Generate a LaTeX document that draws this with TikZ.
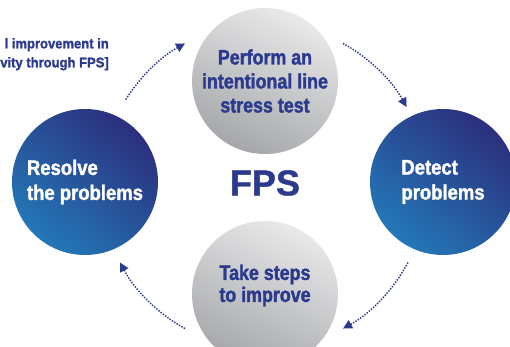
\documentclass[tikz,border=0pt]{standalone}
\usepackage{fontspec}
\setmainfont{Liberation Sans}[FakeStretch=0.85, BoldFeatures={FakeBold=1.6}]
\newfontfamily\bluefont{Liberation Sans}[FakeStretch=0.88, BoldFeatures={FakeBold=1.6}]
\newfontfamily\titlefont{Liberation Sans}[FakeStretch=0.93, BoldFeatures={FakeBold=1.4}]
\newfontfamily\fpsfont{Liberation Sans}[BoldFeatures={FakeBold=1.0}]
\usetikzlibrary{arrows.meta}
\definecolor{navy}{HTML}{2C3A8E}
\definecolor{bluedark}{HTML}{2C2F7D}
\definecolor{bluelight}{HTML}{2378B8}
\definecolor{greylight}{HTML}{E9E9EA}
\definecolor{greydark}{HTML}{A5A7AA}
\tikzset{
  bluecirc/.style={circle, minimum size=146pt, inner sep=0pt, top color=bluedark, bottom color=bluelight, shading angle=-40, text=white, font=\bluefont\bfseries\fontsize{21}{25}\selectfont, align=left},
  greycirc/.style={circle, minimum size=146pt, inner sep=0pt, top color=greylight, bottom color=greydark, shading angle=-25, text=navy, font=\bfseries\fontsize{21}{24}\selectfont, align=center},
  circtext/.style={inner sep=0pt, text=navy, font=\bfseries\fontsize{21}{22}\selectfont, align=center},
  cycarrow/.style={navy, line width=1.5pt, dash pattern=on 1.4pt off 1.4pt, -{Triangle[length=9pt,width=9pt]}},
}
\begin{document}
\begin{tikzpicture}[x=1pt,y=1pt]
\useasboundingbox (0,0) rectangle (510,347);
\clip (0,0) rectangle (510,347);
\coordinate (cyc) at (264,161);
\node[greycirc] (top) at (265,266) {Perform an\\intentional line\\stress test};
\node[bluecirc] (left) at (85,165) {Resolve\\the problems};
\node[bluecirc] (right) at (443,165) {Detect\\problems};
\node[greycirc] (bottom) at (265,53) {};
\node[circtext] (bottomtext) at (265,61.5) {Take steps\\to improve};
\node[text=navy, font=\fpsfont\bfseries\fontsize{36}{40}\selectfont] (fps) at (265,164) {FPS};
\node[text=navy, font=\titlefont\bfseries\fontsize{14}{19}\selectfont, align=right, anchor=north east, inner sep=0pt] (title) at (109,309) {l improvement in\\vity through FPS]};
\draw[cycarrow] ([shift={(148:163)}]cyc) arc[start angle=148, end angle=119, radius=163];
\draw[cycarrow] ([shift={(61:163)}]cyc) arc[start angle=61, end angle=29, radius=163];
\draw[cycarrow] ([shift={(-28:163)}]cyc) arc[start angle=-28, end angle=-61, radius=163];
\draw[cycarrow] ([shift={(-119:163)}]cyc) arc[start angle=-119, end angle=-152, radius=163];
\end{tikzpicture}
\end{document}
